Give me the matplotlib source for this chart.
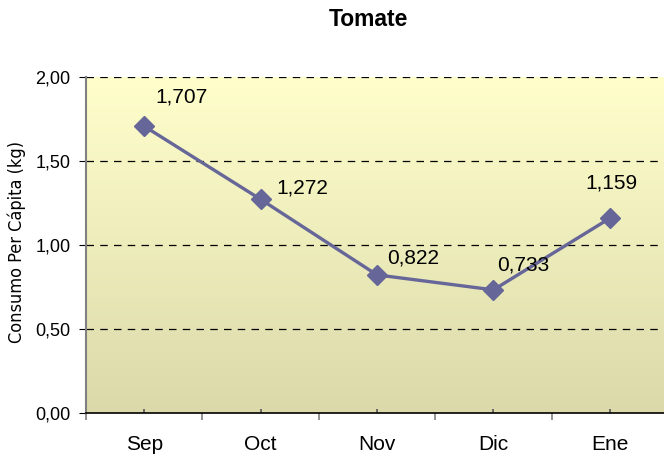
import numpy as np
import matplotlib
matplotlib.use("Agg")
import matplotlib.pyplot as plt
from matplotlib.font_manager import fontManager, FontProperties

categories = ["Sep", "Oct", "Nov", "Dic", "Ene"]
values = [1.707, 1.272, 0.822, 0.733, 1.159]
value_labels = ["1,707", "1,272", "0,822", "0,733", "1,159"]
yticks = [0.0, 0.5, 1.0, 1.5, 2.0]
ytick_labels = ["0,00", "0,50", "1,00", "1,50", "2,00"]
label_offsets = [(37, 29), (42, 11), (36, 17), (30, 25), (2, 35)]

names = {f.name for f in fontManager.ttflist}
base = "Liberation Sans" if "Liberation Sans" in names else "DejaVu Sans"
plt.rcParams["font.family"] = [base, "DejaVu Sans"]

# look for a condensed sans face for the y label
narrow_fp = None
cands = []
for f in fontManager.ttflist:
    n = f.name
    if "Mono" in n or "Serif" in n:
        continue
    if ("Narrow" in n or "Condensed" in n or str(f.stretch) in ("condensed", "semi-condensed")) \
            and f.style == "normal" and f.weight in (400, "normal", "regular"):
        cands.append(f)
cands.sort(key=lambda f: (0 if "Liberation" in f.name else 1 if "Arial" in f.name else 2))
if cands:
    narrow_fp = FontProperties(fname=cands[0].fname, size=13)
else:
    narrow_fp = FontProperties(family=[base, "DejaVu Sans"], size=12)

W, H = 664, 459
fig = plt.figure(figsize=(W / 100, H / 100), dpi=100)
ax = fig.add_axes([86 / W, 46 / H, 582 / W, 336 / H])

x = np.arange(len(categories))
ax.set_xlim(-0.5, len(categories) - 0.5)
ax.set_ylim(0, 2.0)

# gradient background
top = np.array([255, 255, 204]) / 255
bot = np.array([219, 217, 170]) / 255
t = np.linspace(0, 1, 256)[:, None]
grad = (top * (1 - t) + bot * t)[:, None, :]
ax.imshow(grad, extent=[-0.5, len(categories) - 0.5, 0, 2.0], aspect="auto", zorder=0, origin="upper")

for yv in yticks[1:]:
    ax.axhline(yv, color="black", linestyle=(0, (6, 5)), linewidth=0.9, zorder=1)

ax.plot(x, values, color="#666699", linewidth=2.4, marker="D", markersize=10,
        markerfacecolor="#666699", markeredgecolor="#666699", zorder=3)

for xi, v, lab, (dx, dy) in zip(x, values, value_labels, label_offsets):
    ax.annotate(lab, (xi, v), xytext=(dx * 0.72, dy * 0.72), textcoords="offset points",
                ha="center", va="center", fontsize=15, color="black", zorder=4)

ax.set_yticks(yticks)
ax.set_yticklabels(ytick_labels, fontsize=13)
ax.set_xticks(np.arange(-0.5, len(categories), 1.0))
ax.set_xticklabels([""] * (len(categories) + 1))
ax.set_xticks(x, minor=True)
ax.set_xticklabels(categories, minor=True, fontsize=15)
ax.tick_params(axis="x", which="major", length=5, direction="out", color="#808080", width=1.2)
ax.tick_params(axis="x", which="minor", length=3, direction="in", color="#555555", width=1.2, pad=16)
ax.tick_params(axis="y", length=5, direction="out", pad=6)

for s in ["top", "right"]:
    ax.spines[s].set_visible(False)
ax.spines["left"].set_color("#808080")
ax.spines["left"].set_linewidth(1.5)
ax.spines["bottom"].set_color("black")
ax.spines["bottom"].set_linewidth(1.2)

ax.set_ylabel("Consumo Per Cápita (kg)", fontproperties=narrow_fp)
ax.yaxis.set_label_coords(-60 / 582, 0.51)
fig.text(368 / W, 1 - 20 / H, "Tomate", ha="center", va="center", fontsize=16.5, fontweight="bold")

fig.savefig("out.png", dpi=100)
